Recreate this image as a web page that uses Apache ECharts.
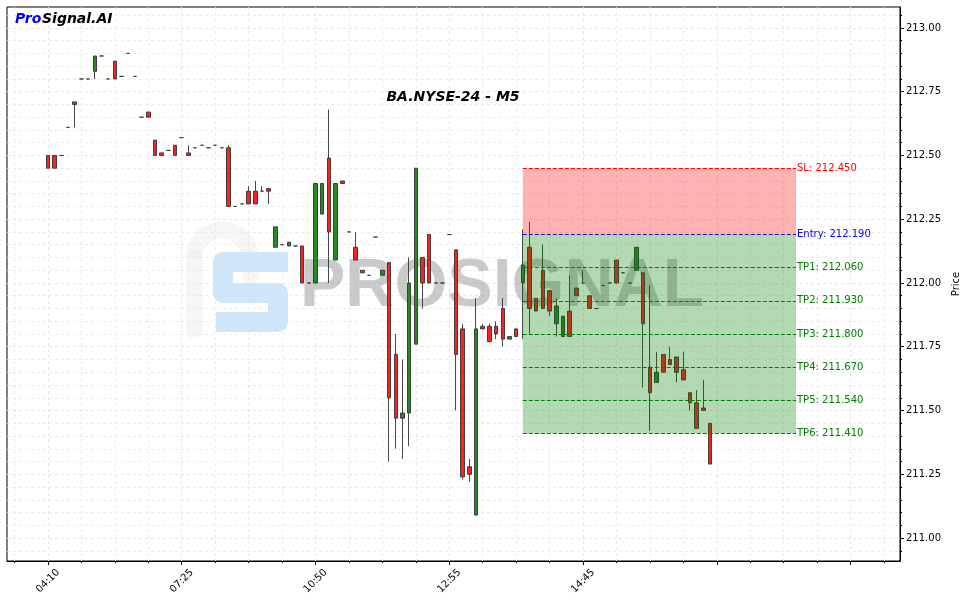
<!DOCTYPE html>
<html><head><meta charset="utf-8">
<script src="https://cdn.jsdelivr.net/npm/echarts@6/dist/echarts.min.js"></script>
<style>html,body{margin:0;padding:0;background:#fff}#c{width:963px;height:603px}</style>
</head><body><div id="c"></div><script>
// ---- data ----
const opens = [212.50,212.50,212.50,212.61,212.70,212.80,212.80,212.83,212.89,212.80,
212.87,212.81,212.90,212.81,212.65,212.67,212.56,212.51,212.52,212.54,
212.57,212.51,212.53,212.54,212.53,212.54,212.53,212.53,212.30,212.31,
212.36,212.36,212.36,212.37,212.14,212.15,212.145,212.145,212.145,212.00,
212.00,212.27,212.49,212.09,212.40,212.20,212.14,212.05,212.03,212.18,
212.03,212.08,211.72,211.47,211.49,211.76,212.10,212.19,212.00,212.00,
212.19,212.13,211.82,211.28,211.09,211.83,211.83,211.83,211.90,211.78,
211.82,212.00,212.14,211.94,212.05,211.97,211.84,211.79,211.89,211.98,
212.00,211.95,211.90,211.99,212.00,212.09,212.04,212.00,212.05,212.04,
211.67,211.61,211.72,211.70,211.71,211.66,211.57,211.53,211.51,211.45];
const closes = [212.45,212.45,212.50,212.61,212.71,212.80,212.80,212.89,212.89,212.80,
212.80,212.81,212.90,212.81,212.65,212.65,212.50,212.50,212.52,212.50,
212.57,212.50,212.53,212.54,212.53,212.54,212.53,212.30,212.30,212.31,
212.31,212.31,212.36,212.36,212.22,212.15,212.16,212.145,212.00,212.00,
212.39,212.39,212.20,212.39,212.39,212.20,212.09,212.04,212.03,212.18,
212.05,211.55,211.47,211.49,212.00,212.45,212.00,212.00,212.00,212.00,
212.19,211.72,211.24,211.25,211.82,211.82,211.77,211.80,211.78,211.79,
211.79,212.07,211.90,211.89,211.90,211.89,211.91,211.87,211.79,211.95,
212.00,211.90,211.90,211.99,212.00,212.00,212.04,212.00,212.14,211.84,
211.57,211.65,211.65,211.68,211.65,211.62,211.53,211.43,211.50,211.29];
const lows = [212.45,212.45,212.50,212.61,212.61,212.80,212.80,212.80,212.89,212.80,
212.80,212.81,212.90,212.81,212.65,212.65,212.50,212.50,212.52,212.50,
212.57,212.50,212.53,212.54,212.53,212.54,212.53,212.30,212.30,212.31,
212.31,212.31,212.36,212.31,212.14,212.15,212.145,212.145,212.00,212.00,
212.00,212.27,212.00,212.09,212.39,212.20,212.09,212.04,212.03,212.18,
212.03,211.30,211.35,211.31,211.36,211.76,211.90,212.00,212.00,212.00,
212.19,211.50,211.23,211.22,211.09,211.82,211.77,211.78,211.75,211.78,
211.79,211.78,211.80,211.89,211.90,211.87,211.79,211.79,211.79,211.95,
212.00,211.90,211.90,211.99,212.00,212.00,212.04,212.00,212.05,211.59,
211.42,211.61,211.65,211.68,211.61,211.62,211.50,211.43,211.50,211.29];
const highs = [212.50,212.50,212.50,212.61,212.71,212.80,212.80,212.89,212.89,212.80,
212.87,212.81,212.90,212.81,212.65,212.67,212.56,212.51,212.52,212.54,
212.57,212.54,212.53,212.54,212.53,212.54,212.53,212.54,212.30,212.31,
212.38,212.40,212.38,212.37,212.22,212.15,212.16,212.145,212.145,212.00,
212.39,212.39,212.68,212.39,212.40,212.20,212.20,212.05,212.03,212.18,
212.05,212.08,211.80,211.70,212.10,212.45,212.10,212.19,212.00,212.00,
212.19,212.13,211.84,211.31,211.94,211.84,211.84,211.85,211.94,211.79,
211.82,212.21,212.24,211.94,212.15,211.97,211.94,211.87,212.03,211.98,
212.05,211.95,211.90,211.99,212.00,212.09,212.04,212.00,212.14,212.04,
211.99,211.73,211.72,211.75,211.71,211.73,211.57,211.58,211.62,211.45];
const xTickIdx = [0,20,40,60,80,100,120];
const xTickLabels = ['04:10','07:25','10:50','12:55','14:45','',''];
const yTickValues = [211.00,211.25,211.50,211.75,212.00,212.25,212.50,212.75,213.00];
const slPrice = 212.45;
const entryPrice = 212.19;
const tpPrices = [212.06,211.93,211.80,211.67,211.54,211.41];
const zoneStart = 71, zoneEnd = 111.85;
const chartTitle = 'BA.NYSE-24 - M5';

// ---- helpers ----
const xMin = -6.13, xMax = 127.4, yMin = 210.91, yMax = 213.082;
const xMinor = []; for (let v = -5; v <= 125; v += 5) xMinor.push(v);
const yMinor = []; for (let k = 4219; k <= 4261; k++) yMinor.push(+(k * 0.05).toFixed(2));
const FONT = 'DejaVu Sans';
const gridLine = {show: true, lineStyle: {color: '#e6e6e6', width: 0.8, type: [3, 3]}};

const candleData = opens.map((o, i) => [i, o, closes[i], lows[i], highs[i]]);
const zoneData = [[zoneStart, zoneEnd, entryPrice, slPrice], [zoneStart, zoneEnd, tpPrices[5], entryPrice]];
const zoneColors = ['rgba(255,0,0,0.3)', 'rgba(0,128,0,0.3)'];

function lvl(price, color, text) {
  return [{coord: [zoneStart, price], lineStyle: {color: color, width: 1, type: [4, 2]},
           label: {show: true, position: 'end', distance: 1, formatter: text, color: color, fontSize: 10, fontFamily: FONT}},
          {coord: [zoneEnd, price]}];
}
const lines = [lvl(slPrice, '#ff0000', 'SL: ' + slPrice.toFixed(3)),
               lvl(entryPrice, '#0000ff', 'Entry: ' + entryPrice.toFixed(3))];
tpPrices.forEach((p, i) => lines.push(lvl(p, '#008000', 'TP' + (i + 1) + ': ' + p.toFixed(3))));

const chart = echarts.init(document.getElementById('c'), null, {renderer: 'canvas'});
chart.setOption({
  animation: false,
  backgroundColor: '#fff',
  grid: {left: 7, right: 63, top: 7, bottom: 42, show: true, borderColor: '#000', borderWidth: 1,
         containLabel: false, outerBoundsMode: 'none'},
  xAxis: [{
    type: 'value', min: xMin, max: xMax, position: 'bottom',
    axisLine: {show: true, onZero: false, lineStyle: {color: '#000', width: 1}},
    axisTick: {show: true, length: 4, customValues: xTickIdx, lineStyle: {color: '#000'}},
    axisLabel: {show: true, customValues: xTickIdx, rotate: 45, align: 'center', verticalAlign: 'middle', margin: 20,
      fontSize: 10, fontFamily: FONT, color: '#000',
      formatter: v => { const k = xTickIdx.indexOf(Math.round(v)); return k >= 0 ? xTickLabels[k] : ''; }},
    splitLine: gridLine
  }, {
    type: 'value', min: xMin, max: xMax, position: 'bottom',
    axisLine: {show: false, onZero: false},
    axisTick: {show: true, length: 2, customValues: xMinor, lineStyle: {color: '#000'}},
    axisLabel: {show: false},
    splitLine: gridLine
  }],
  yAxis: [{
    type: 'value', min: yMin, max: yMax, position: 'right', scale: true,
    name: 'Price', nameLocation: 'middle', nameGap: 41, nameRotate: 90,
    nameTextStyle: {fontSize: 10, fontFamily: FONT, color: '#000'},
    axisLine: {show: true, onZero: false, lineStyle: {color: '#000', width: 1}},
    axisTick: {show: true, length: 4, customValues: yTickValues, lineStyle: {color: '#000'}},
    axisLabel: {show: true, customValues: yTickValues, margin: 6, fontSize: 10, fontFamily: FONT, color: '#000',
      formatter: v => v.toFixed(2)},
    splitLine: gridLine
  }, {
    type: 'value', min: yMin, max: yMax, position: 'right', scale: true,
    axisLine: {show: false, onZero: false},
    axisTick: {show: true, length: 2, customValues: yMinor, lineStyle: {color: '#000'}},
    axisLabel: {show: false},
    splitLine: gridLine
  }],
  series: [{
    type: 'candlestick', xAxisIndex: 0, yAxisIndex: 0, z: 2,
    barWidth: 4,
    data: candleData,
    itemStyle: {color: '#228b22', color0: '#ff1f1f', borderColor: '#333', borderColor0: '#333', borderColorDoji: '#333', borderWidth: 0.9}
  }, {
    type: 'custom', xAxisIndex: 0, yAxisIndex: 0, z: 5, silent: true,
    data: zoneData,
    encode: {x: [0, 1], y: [2, 3]},
    renderItem: (params, api) => {
      const p0 = api.coord([api.value(0), api.value(3)]);
      const p1 = api.coord([api.value(1), api.value(2)]);
      return {type: 'rect', shape: {x: p0[0], y: p0[1], width: p1[0] - p0[0], height: p1[1] - p0[1]},
              style: {fill: zoneColors[params.dataIndex]}};
    },
    markLine: {silent: true, symbol: ['none', 'none'], animation: false, data: lines}
  }],
  graphic: [
    {type: 'arc', z: 1, silent: true, shape: {cx: 222, cy: 258, r: 28, startAngle: Math.PI, endAngle: 2 * Math.PI},
     style: {fill: null, stroke: 'rgba(225,225,225,0.3)', lineWidth: 17}},
    {type: 'line', z: 1, silent: true, shape: {x1: 194, y1: 258, x2: 194, y2: 330},
     style: {stroke: 'rgba(225,225,225,0.3)', lineWidth: 17, lineCap: 'round'}},
    {type: 'line', z: 1, silent: true, shape: {x1: 250, y1: 258, x2: 250, y2: 276},
     style: {stroke: 'rgba(225,225,225,0.3)', lineWidth: 17, lineCap: 'round'}},
    {type: 'polyline', z: 1, silent: true, shape: {points: [[288, 262], [223, 262], [223, 293], [278, 293], [278, 322], [216, 322]]},
     style: {fill: null, stroke: '#cfe6f8', lineWidth: 20, lineJoin: 'round'}},
    {type: 'text', z: 1, silent: true, x: 300, y: 287,
     style: {text: 'PROSIGNAL', font: 'bold 68px "Liberation Sans"', fill: 'rgba(128,128,128,0.42)', align: 'left', verticalAlign: 'middle',
             shadowBlur: 3, shadowColor: 'rgba(128,128,128,0.3)'}},
    {type: 'text', z: 100, x: 453, y: 97,
     style: {text: chartTitle, font: 'italic bold 14px "DejaVu Sans"', fill: '#000', align: 'center', verticalAlign: 'middle'}},
    {type: 'text', z: 100, x: 15, y: 19,
     style: {text: 'Pro', font: 'italic bold 14px "DejaVu Sans"', fill: '#0000ff', align: 'left', verticalAlign: 'middle'}},
    {type: 'text', z: 100, x: 42, y: 19,
     style: {text: 'Signal.AI', font: 'italic bold 14px "DejaVu Sans"', fill: '#000', align: 'left', verticalAlign: 'middle'}}
  ]
});
</script></body></html>
